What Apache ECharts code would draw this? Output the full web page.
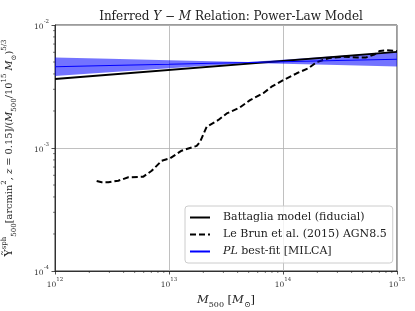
<!DOCTYPE html>
<html><head><meta charset="utf-8">
<script src="https://cdn.jsdelivr.net/npm/echarts@6/dist/echarts.min.js"></script>
<style>html,body{margin:0;padding:0;background:#fff}#c{width:415px;height:311px}</style>
</head><body><div id="c"></div>
<script>
const battagliaX = [1e12, 1e15];
const battagliaY = [3.64e-3, 6.05e-3];

const leBrunX = [2.32e12, 2.57e12, 2.94e12, 3.59e12, 4.40e12, 5.96e12, 7.05e12, 8.63e12, 1.02e13, 1.29e13, 1.75e13, 1.87e13, 2.14e13, 2.71e13, 3.21e13, 4.20e13, 5.14e13, 6.71e13, 7.94e13, 1.01e14, 1.32e14, 1.67e14, 1.98e14, 2.57e14, 3.39e14, 4.47e14, 5.37e14, 6.31e14, 7.08e14, 8.13e14, 1e15];
const leBrunY = [5.40e-4, 5.26e-4, 5.26e-4, 5.42e-4, 5.78e-4, 5.85e-4, 6.53e-4, 7.88e-4, 8.24e-4, 9.51e-4, 1.04e-3, 1.12e-3, 1.49e-3, 1.69e-3, 1.91e-3, 2.14e-3, 2.45e-3, 2.79e-3, 3.15e-3, 3.57e-3, 4.05e-3, 4.45e-3, 5.00e-3, 5.40e-3, 5.52e-3, 5.45e-3, 5.45e-3, 5.75e-3, 6.15e-3, 6.25e-3, 6.15e-3];

const fitX     = [1e12,    3e12,    1e13,    3e13,    5e13,    1e14,    3e14,    1e15];
const fitY     = [4.58e-3, 4.69e-3, 4.80e-3, 4.91e-3, 4.95e-3, 5.02e-3, 5.14e-3, 5.26e-3];
const fitUpper = [5.45e-3, 5.32e-3, 5.18e-3, 5.06e-3, 5.00e-3, 5.22e-3, 5.60e-3, 6.03e-3];
const fitLower = [3.85e-3, 4.13e-3, 4.45e-3, 4.76e-3, 4.91e-3, 4.83e-3, 4.72e-3, 4.59e-3];

const xMinorTicks = [2e12,3e12,4e12,5e12,6e12,7e12,8e12,9e12,2e13,3e13,4e13,5e13,6e13,7e13,8e13,9e13,2e14,3e14,4e14,5e14,6e14,7e14,8e14,9e14];
const yMinorTicks = [2e-4,3e-4,4e-4,5e-4,6e-4,7e-4,8e-4,9e-4,2e-3,3e-3,4e-3,5e-3,6e-3,7e-3,8e-3,9e-3];

const seriesNames = ['Battaglia model (fiducial)', 'Le Brun et al. (2015) AGN8.5', 'PL best-fit [MILCA]'];

const FONT = 'DejaVu Serif';
const TXT = '#222';
const pairs = (xs, ys) => xs.map((x, i) => [x, ys[i]]);
const expLabel = v => '{b|10}{s|' + Math.round(Math.log10(v)) + '}';
const tickRich = {
  b: {fontFamily: FONT, fontSize: 7.5, color: '#333', lineHeight: 12, verticalAlign: 'bottom'},
  s: {fontFamily: FONT, fontSize: 5.5, color: '#333', lineHeight: 6, verticalAlign: 'top'}
};

const chart = echarts.init(document.getElementById('c'), null, {renderer: 'canvas'});
chart.setOption({
  animation: false,
  backgroundColor: '#fff',
  title: {
    text: '{n|Inferred }{i|Y}{n| − }{i|M}{n| Relation: Power-Law Model}',
    left: 226, top: 6, textAlign: 'center',
    textStyle: {
      fontWeight: 'normal',
      rich: {
        n: {fontFamily: FONT, fontSize: 12, color: TXT, fontWeight: 'normal'},
        i: {fontFamily: FONT, fontSize: 12, color: TXT, fontStyle: 'italic', fontWeight: 'normal'}
      }
    }
  },
  grid: {left: 55, right: 18, top: 25, bottom: 40, containLabel: false, outerBoundsMode: 'none',
         show: true, borderColor: '#222', borderWidth: 0.9, backgroundColor: 'transparent'},
  legend: {
    orient: 'vertical', left: 185, top: 206,
    data: seriesNames,
    itemWidth: 20, itemHeight: 12, itemGap: 6,
    padding: [6, 6, 6, 4],
    borderColor: '#cccccc', borderWidth: 1, borderRadius: 3,
    backgroundColor: 'rgba(255,255,255,0.8)',
    itemStyle: {opacity: 0},
    formatter: name => name.startsWith('PL') ? '{ip|PL}{n| best-fit [MILCA]}' : '{np|' + name + '}',
    textStyle: {
      rich: {
        np: {fontFamily: FONT, fontSize: 11, color: TXT, padding: [0, 0, 0, 8]},
        n: {fontFamily: FONT, fontSize: 11, color: TXT},
        ip: {fontFamily: FONT, fontSize: 11, color: TXT, fontStyle: 'italic', padding: [0, 0, 0, 8]}
      }
    }
  },
  xAxis: {
    type: 'log', logBase: 10, min: 1e12, max: 1e15, splitNumber: 3,
    name: '{i|M}{sub|500}{n| [}{i|M}{sub|⊙}{n|]}',
    nameLocation: 'middle', nameGap: 16,
    nameTextStyle: {
      rich: {
        n: {fontFamily: FONT, fontSize: 11.5, color: TXT, lineHeight: 15, verticalAlign: 'top'},
        i: {fontFamily: FONT, fontSize: 11.5, color: TXT, fontStyle: 'italic', lineHeight: 15, verticalAlign: 'top'},
        sub: {fontFamily: FONT, fontSize: 8, color: TXT, lineHeight: 12, verticalAlign: 'bottom'}
      }
    },
    axisLine: {show: true, lineStyle: {color: '#222', width: 0.9}},
    axisTick: {show: true, inside: false, length: 3.5, lineStyle: {color: '#222', width: 0.8}},
    axisLabel: {margin: 6, formatter: expLabel, rich: tickRich},
    splitLine: {show: true, lineStyle: {color: '#b0b0b0', width: 0.8}}
  },
  yAxis: {
    type: 'log', logBase: 10, min: 1e-4, max: 1e-2, splitNumber: 2,
    name: '{m|Ỹ}{sup|sph}{sub|500}{n|[arcmin}{sup|2}{n|, }{i|z}{n| = 0.15]/(}{i|M}{sub|500}{n|/10}{sup|15}{i| M}{sub|⊙}{n|)}{sup|5/3}',
    nameLocation: 'middle', nameGap: 37, nameRotate: 90,
    nameTextStyle: {
      rich: {
        m: {fontFamily: FONT, fontSize: 11, color: TXT, lineHeight: 17, verticalAlign: 'middle'},
        n: {fontFamily: FONT, fontSize: 9.8, color: TXT, lineHeight: 17, verticalAlign: 'middle'},
        i: {fontFamily: FONT, fontSize: 9.8, color: TXT, fontStyle: 'italic', lineHeight: 17, verticalAlign: 'middle'},
        sup: {fontFamily: FONT, fontSize: 7, color: TXT, lineHeight: 9, verticalAlign: 'top'},
        sub: {fontFamily: FONT, fontSize: 7, color: TXT, lineHeight: 9, verticalAlign: 'bottom'}
      }
    },
    axisLine: {show: true, lineStyle: {color: '#222', width: 0.9}},
    axisTick: {show: true, inside: false, length: 3.5, lineStyle: {color: '#222', width: 0.8}},
    axisLabel: {margin: 6, formatter: expLabel, rich: tickRich},
    splitLine: {show: true, lineStyle: {color: '#b0b0b0', width: 0.8}}
  },
  series: [
    {
      type: 'custom', name: 'band', z: 1, clip: true, silent: true,
      data: pairs(fitX, fitY),
      renderItem: (params, api) => {
        if (params.dataIndex !== 0) return null;
        const pts = [];
        for (let i = 0; i < fitX.length; i++) pts.push(api.coord([fitX[i], fitUpper[i]]));
        for (let i = fitX.length - 1; i >= 0; i--) pts.push(api.coord([fitX[i], fitLower[i]]));
        return {type: 'polygon', shape: {points: pts}, style: {fill: 'rgba(0,0,255,0.55)', stroke: 'none'}};
      }
    },
    {
      type: 'line', name: seriesNames[0], z: 3, data: pairs(battagliaX, battagliaY),
      symbol: 'none', showSymbol: false, color: '#000',
      lineStyle: {color: '#000', width: 1.8}
    },
    {
      type: 'line', name: seriesNames[1], z: 3, data: pairs(leBrunX, leBrunY),
      symbol: 'none', showSymbol: false, color: '#000',
      lineStyle: {color: '#000', width: 2, type: [6, 3]}
    },
    {
      type: 'line', name: seriesNames[2], z: 4, data: pairs(fitX, fitY),
      symbol: 'none', showSymbol: false, color: '#0000ff',
      lineStyle: {color: '#0000ff', width: 1.1}
    },
    {
      type: 'custom', name: 'xminor', z: 5, clip: false, silent: true,
      data: xMinorTicks.map(v => [v, 1e-4]),
      renderItem: (params, api) => {
        const p = api.coord([api.value(0), 1e-4]);
        return {type: 'line', shape: {x1: p[0], y1: p[1], x2: p[0], y2: p[1] + 2}, style: {stroke: '#222', lineWidth: 0.6}};
      }
    },
    {
      type: 'custom', name: 'yminor', z: 5, clip: false, silent: true,
      data: yMinorTicks.map(v => [1e12, v]),
      renderItem: (params, api) => {
        const p = api.coord([1e12, api.value(1)]);
        return {type: 'line', shape: {x1: p[0] - 2, y1: p[1], x2: p[0], y2: p[1]}, style: {stroke: '#222', lineWidth: 0.6}};
      }
    }
  ]
});
</script>
</body></html>
